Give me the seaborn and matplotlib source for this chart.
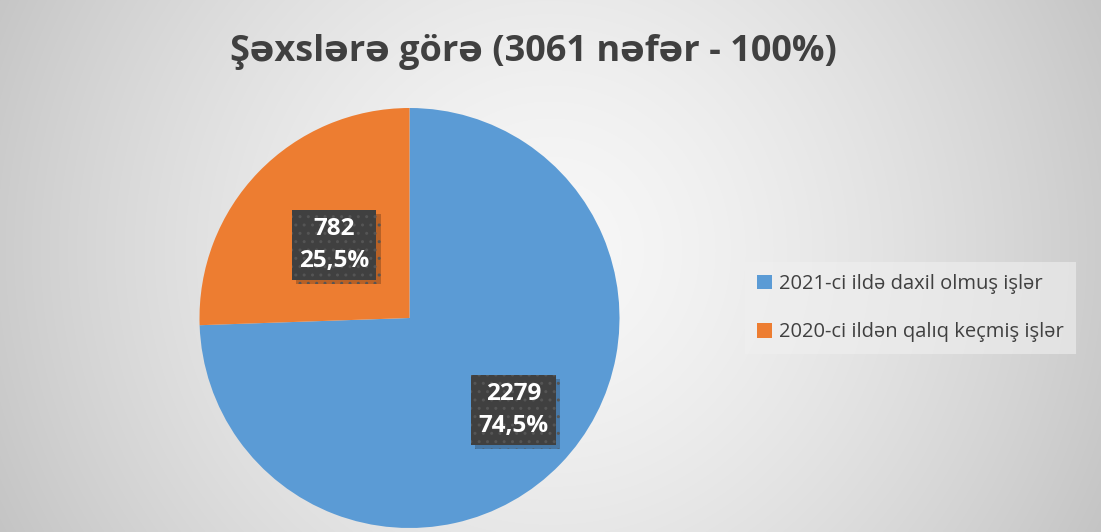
import numpy as np
import matplotlib
matplotlib.use("Agg")
import matplotlib.pyplot as plt
import matplotlib.patheffects as pe
import seaborn as sns

# ---- data ----
title = "Şəxslərə görə (3061 nəfər - 100%)"
categories = ["2021-ci ildə daxil olmuş işlər", "2020-ci ildən qalıq keçmiş işlər"]
counts = [2279, 782]
percent_labels = ["74,5%", "25,5%"]

sns.set_theme(style="white")
plt.rcParams["font.family"] = ["Open Sans", "DejaVu Sans"]
colors = sns.color_palette(["#5B9BD5", "#ED7D31"])
text_color = "#404040"

W, H = 1101, 532
fig = plt.figure(figsize=(W / 100, H / 100), dpi=100)

# radial gradient background
bg = fig.add_axes([0, 0, 1, 1], zorder=-10)
yy, xx = np.mgrid[0:H, 0:W]
d = np.sqrt((xx - 550) ** 2 + (yy - 250) ** 2)
v = (247 - 50 * (d / 612) ** 1.5) / 255.0
v = np.clip(v, 0, 1)
bg.imshow(np.dstack([v, v, v]), extent=[0, 1, 0, 1], aspect="auto", origin="upper")
bg.set_axis_off()

# pie axes
cx, cy, r = 409.5, 318, 210
ax = fig.add_axes([(cx - r) / W, (H - cy - r) / H, 2 * r / W, 2 * r / H])
wedges, _ = ax.pie(counts, colors=colors, startangle=90, counterclock=False,
                   radius=1, wedgeprops=dict(linewidth=0))
ax.set_xlim(-1, 1)
ax.set_ylim(-1, 1)
ax.set_aspect("auto")
ax.set_axis_off()

dists = [0.66, 0.5]
for w, c, p, dist in zip(wedges, counts, percent_labels, dists):
    th = np.deg2rad((w.theta1 + w.theta2) / 2 + 2.5 * (dist > 0.6))
    x, y = dist * np.cos(th), dist * np.sin(th)
    t = ax.text(x, y, f"{c}\n{p}", ha="center", va="center", color="white",
                fontsize=17.5, fontweight="bold", linespacing=1.42,
                bbox=dict(boxstyle="square,pad=0.3", fc="#404040",
                          ec="#555555", lw=0, hatch=".."))
    t.get_bbox_patch().set_path_effects(
        [pe.SimplePatchShadow(offset=(3, -3), shadow_rgbFace="#000000", alpha=0.22), pe.Normal()])

# title
fig.text(533 / W, 1 - 52 / H, title, ha="center", va="center", fontsize=26,
         fontweight="bold", color=text_color)

# legend
leg = fig.legend(wedges, categories, loc="upper left",
                 bbox_to_anchor=(745 / W, 1 - 262 / H), borderaxespad=0,
                 fontsize=14.5, frameon=True, handlelength=0.75, handleheight=0.75,
                 handletextpad=0.35, labelspacing=1.4, borderpad=0.6, fancybox=False)
leg.get_frame().set_facecolor("#f0f0f0")
leg.get_frame().set_edgecolor("none")
leg.get_frame().set_alpha(0.6)
for txt in leg.get_texts():
    txt.set_color(text_color)

fig.savefig("out.png", dpi=100)
